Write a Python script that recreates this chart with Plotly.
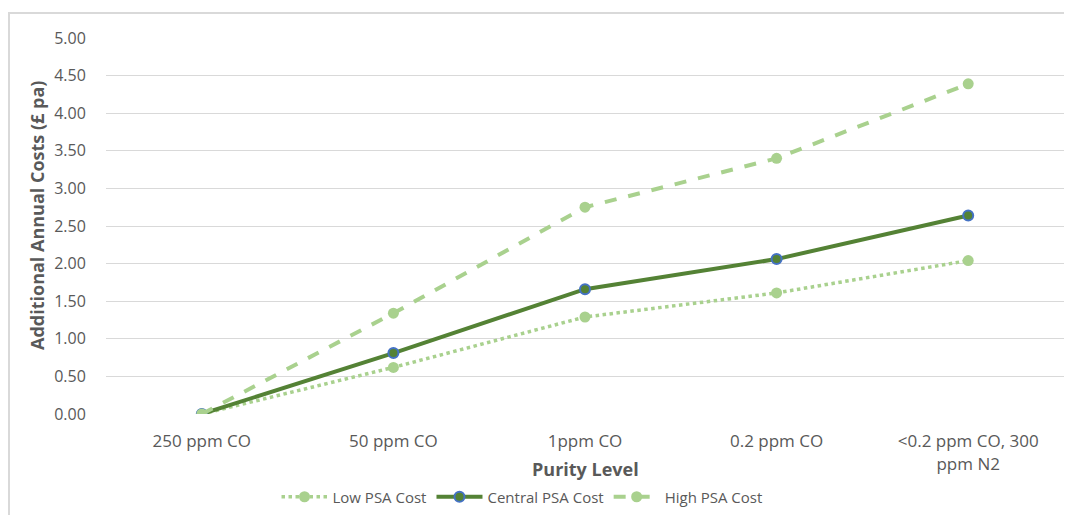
import plotly.graph_objects as go

categories = ["250 ppm CO", "50 ppm CO", "1ppm CO", "0.2 ppm CO", "<0.2 ppm CO, 300<br>ppm N2"]
low_psa = [0.00, 0.62, 1.29, 1.61, 2.04]
central_psa = [0.00, 0.81, 1.66, 2.06, 2.64]
high_psa = [0.00, 1.34, 2.75, 3.40, 4.39]
y_ticks = [0, 0.5, 1, 1.5, 2, 2.5, 3, 3.5, 4, 4.5, 5]

FONT = "'Open Sans', Lato, sans-serif"
LIGHT = "#A9D18E"
DARK = "#548235"
GREY = "#595959"

fig = go.Figure()
fig.add_trace(go.Scatter(
    x=categories, y=low_psa, name="Low PSA Cost", mode="lines+markers",
    line=dict(color=LIGHT, width=3.5, dash="dot"),
    marker=dict(symbol="circle", size=11, color=LIGHT),
))
fig.add_trace(go.Scatter(
    x=categories, y=central_psa, name="Central PSA Cost", mode="lines+markers",
    line=dict(color=DARK, width=4),
    marker=dict(symbol="circle", size=10, color=DARK, line=dict(color="#4472C4", width=2)),
))
fig.add_trace(go.Scatter(
    x=categories, y=high_psa, name="High PSA Cost", mode="lines+markers",
    line=dict(color=LIGHT, width=4, dash="dash"),
    marker=dict(symbol="circle", size=11, color=LIGHT),
))

# page body has an 8px margin: work in screen pixels and subtract it
OFF = 8
W, H = 1072 - OFF, 515 - OFF
L, R, T, B = 106 - OFF, 8, 38 - OFF, 515 - 414
pw = W - L - R
ph = H - T - B


def px(x):
    return (x - OFF - L) / pw


def py(y):
    return (H - B - (y - OFF)) / ph


fig.update_layout(
    width=W, height=H,
    margin=dict(l=L, r=R, t=T, b=B, autoexpand=False),
    paper_bgcolor="white", plot_bgcolor="white",
    font=dict(family=FONT, size=15, color=GREY),
    showlegend=True,
    legend=dict(orientation="h", x=px(522), xanchor="center", y=py(497),
                yanchor="middle", font=dict(size=15, color=GREY),
                bgcolor="rgba(0,0,0,0)", itemwidth=46),
    xaxis=dict(
        type="category", range=[-0.5, 4.5], showgrid=False, showline=False,
        zeroline=False, ticks="outside", ticklen=12, tickcolor="rgba(0,0,0,0)",
        tickfont=dict(size=17, color=GREY), automargin=False,
    ),
    yaxis=dict(
        range=[0, 5], tickvals=y_ticks, tickformat=".2f",
        showgrid=True, gridcolor="#D9D9D9", gridwidth=1, zeroline=False,
        showline=False, ticks="outside", ticklen=16, tickcolor="rgba(0,0,0,0)",
        tickfont=dict(size=16, color=GREY), automargin=False,
    ),
    annotations=[
        dict(text="<b>Additional Annual Costs (£ pa)</b>", xref="paper", yref="paper",
             x=px(37), y=py(216), textangle=-90, showarrow=False,
             xanchor="center", yanchor="middle", font=dict(size=18, color=GREY)),
        dict(text="<b>Purity Level</b>", xref="paper", yref="paper",
             x=px(585), y=py(469), showarrow=False,
             xanchor="center", yanchor="middle", font=dict(size=18, color=GREY)),
    ],
    shapes=[
        dict(type="rect", xref="paper", yref="paper",
             x0=px(9), x1=px(1090), y0=py(530), y1=py(13),
             line=dict(color="#D9D9D9", width=2), fillcolor="rgba(0,0,0,0)", layer="below"),
    ],
)

fig.write_html("out.html")
